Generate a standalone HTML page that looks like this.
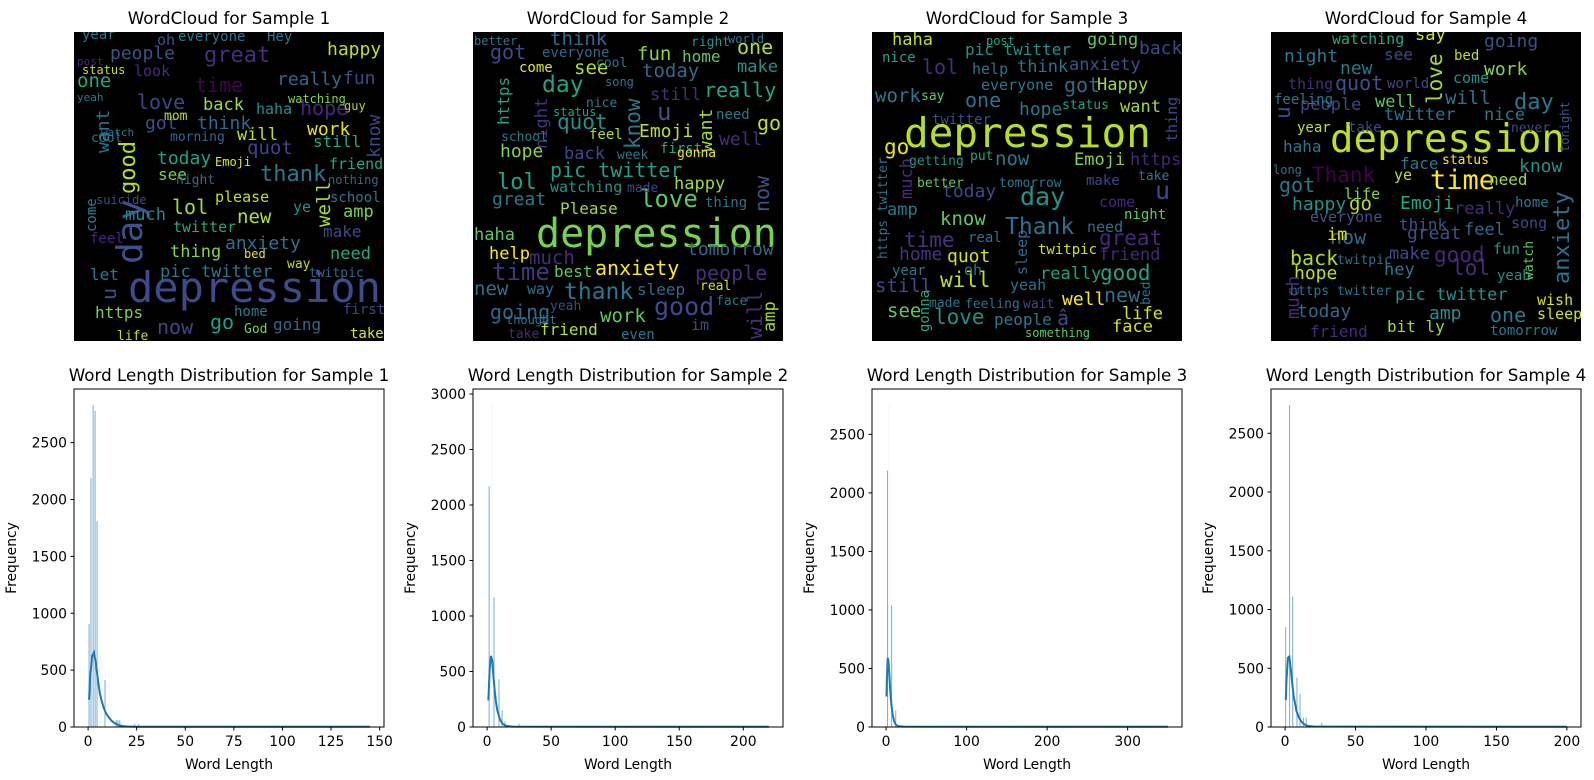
<!DOCTYPE html>
<html><head><meta charset="utf-8">
<style>
html,body{margin:0;padding:0;background:#fff;}
svg{display:block;font-family:"DejaVu Sans","Liberation Sans",sans-serif;}
.wc text{font-family:"DejaVu Sans Mono","Liberation Mono",monospace;}
</style></head>
<body>
<svg id="fig" width="1594" height="780" viewBox="0 0 1594 780" xmlns="http://www.w3.org/2000/svg"></svg>
<script>
// ---- histogram data ----
const s1Lengths=[0.5,1.5,2.6,3.6,4.6,8.7,14.5,15.3,16.3,24,26];
const s1Counts=[905,2190,2830,2780,1810,415,60,60,60,25,25];
const s1LightLengths=[6,7];
const s1LightCounts=[1800,600];
const s1KdeX=[0.5,1,2,3,4,5,6,7,8,9,10,12,14,16,18,20,25,145];
const s1KdeY=[240,420,620,655,560,420,300,230,170,130,100,55,30,15,8,4,2,2];
const s1Max=145;

const s2Lengths=[1.6,5.4,9.3,11.7,14,25];
const s2Counts=[2170,1170,430,150,50,30];
const s2LightLengths=[3.7];
const s2LightCounts=[2900];
const s2KdeX=[1,2,3,4,5,6,7,8,10,12,14,16,20,220];
const s2KdeY=[240,520,640,600,450,320,220,150,70,30,15,8,3,2];
const s2Max=220;

const s3Lengths=[1.8,6.9,12,20];
const s3Counts=[2190,1040,140,20];
const s3LightLengths=[4.5];
const s3LightCounts=[2750];
const s3KdeX=[0.5,1,2,3,4,5,6,8,10,12,15,20,350];
const s3KdeY=[260,420,590,560,450,330,230,110,50,20,8,3,2];
const s3Max=350;

const s4Lengths=[0.4,3.2,5.4,8.4,10.6,13,15,26];
const s4Counts=[850,2740,1110,420,280,80,80,35];
const s4LightLengths=[];
const s4LightCounts=[];
const s4KdeX=[0.5,1,2,3,4,5,6,8,10,12,14,16,20,200];
const s4KdeY=[230,400,590,600,500,380,270,140,75,40,20,10,4,2];
const s4Max=200;

const xTickSteps=[25,50,100,50];
const yTickStep=500;

// ---- word clouds: [text, x, baselineY, size, color, vertical] in 310px cloud coords ----
const cloud1=[["depression",54,270,42,"#3e4a89",0],["day",68,232,36,"#3b528b",1],["good",61,162,22,"#b5de2b",1],
["thank",186,149,22,"#2a788e",0],["love",63,77,20,"#414487",0],["great",130,30,22,"#472d7b",0],["time",121,60,20,"#440154",0],
["think",123,97,18,"#31688e",0],["lol",98,182,20,"#a0da39",0],["pic twitter",86,245,17,"#2a788e",0],["anxiety",151,217,18,"#2c728e",0],
["today",83,132,18,"#20a386",0],["quot",173,122,19,"#414487",0],["people",36,27,18,"#3b528b",0],["happy",253,23,18,"#c2df23",0],
["really",203,53,18,"#31688e",0],["one",3,55,19,"#22a884",0],["fun",269,52,18,"#3e4989",0],["back",129,78,17,"#9fda3a",0],
["hope",226,83,20,"#482878",0],["got",71,97,18,"#3b528b",0],["want",35,121,18,"#2c728e",1],["work",233,103,18,"#e5e419",0],
["will",163,108,17,"#bddf26",0],["still",239,115,16,"#22a884",0],["know",306,126,18,"#414487",1],["new",163,191,19,"#b5de2b",0],
["well",256,195,19,"#addc30",1],["amp",269,185,17,"#7ad151",0],["much",51,188,17,"#26828e",0],["need",256,227,17,"#22a884",0],
["thing",96,225,17,"#84d44b",0],["make",249,205,16,"#3e4989",0],["https",21,286,16,"#7ad151",0],["now",83,302,20,"#414487",0],
["go",136,297,20,"#1f9e89",0],["going",199,298,16,"#31688e",0],["u",42,268,20,"#3b528b",1],["let",16,248,16,"#2a788e",0],
["come",22,200,14,"#26828e",1],["everyone",104,9,14,"#2a788e",0],["Hey",193,9,14,"#2a788e",0],["year",8,7,14,"#2c728e",0],
["oh",83,13,15,"#3b528b",0],["mom",90,88,13,"#b5de2b",0],["cool",17,110,13,"#2a788e",0],["haha",182,82,15,"#21918c",0],
["morning",96,109,13,"#31688e",0],["see",84,148,16,"#7ad151",0],["night",102,152,13,"#31688e",0],["please",141,170,15,"#c2df23",0],
["school",256,170,14,"#2a788e",0],["friend",255,137,15,"#22a884",0],["twitter",99,200,15,"#22a884",0],["feel",16,211,14,"#482878",0],
["nothing",254,152,12,"#31688e",0],["status",8,42,12,"#c2df23",0],["watching",214,71,12,"#84d44b",0],["guy",270,78,12,"#9fda3a",0],
["Emoji",141,134,12,"#e5e419",0],["twitpic",235,245,13,"#31688e",0],["first",269,282,14,"#3e4989",0],["take",276,306,14,"#e5e419",0],
["home",160,284,14,"#2a788e",0],["God",170,301,13,"#7ad151",0],["life",43,308,13,"#bddf26",0],["suicide",22,172,12,"#3e4989",0],
["look",60,44,15,"#472d7b",0],["post",3,33,11,"#482878",0],["yeah",3,69,11,"#2a788e",0],["watch",27,104,11,"#2a788e",0],
["bed",170,226,12,"#e5e419",0],["way",213,236,13,"#bddf26",0],["ye",219,180,15,"#21918c",0]];
const cloud2=[["depression",63,215,40,"#7ad151",0],["day",69,60,23,"#20a386",0],["know",167,117,21,"#2a788e",1],["love",167,175,24,"#5ec962",0],
["good",181,283,25,"#3e4989",0],["thank",91,267,23,"#2a788e",0],["pic twitter",77,145,20,"#1f9e89",0],["lol",24,157,22,"#20a386",0],
["quot",84,97,21,"#21918c",0],["Emoji",166,105,18,"#bddf26",0],["still",177,68,17,"#472d7b",0],["really",231,65,20,"#22a884",0],
["today",169,45,19,"#31688e",0],["fun",164,28,19,"#84d44b",0],["think",77,13,19,"#31688e",0],["got",17,27,20,"#3e4989",0],
["https",36,93,16,"#20a386",1],["night",74,117,17,"#46337e",1],["hope",27,125,18,"#84d44b",0],["back",91,127,17,"#3e4989",0],
["great",19,173,18,"#2a788e",0],["Please",87,182,16,"#9fda3a",0],["much",56,232,19,"#472d7b",0],["anxiety",122,243,20,"#fde725",0],
["tomorrow",214,223,18,"#31688e",0],["people",222,248,20,"#472d7b",0],["time",19,248,24,"#46337e",0],["new",1,263,19,"#2c728e",0],
["going",17,287,20,"#31688e",0],["work",127,290,19,"#5ec962",0],["friend",67,303,16,"#b5de2b",0],["now",296,180,20,"#3b528b",1],
["will",289,307,20,"#472d7b",1],["amp",302,300,17,"#9fda3a",1],["want",239,120,18,"#9fda3a",1],["happy",201,157,17,"#9fda3a",0],
["watching",77,160,15,"#21918c",0],["one",264,22,20,"#b5de2b",0],["make",264,40,17,"#21918c",0],["see",101,42,19,"#b5de2b",0],
["help",16,227,17,"#fde725",0],["haha",1,208,17,"#5ec962",0],["sleep",164,263,16,"#31688e",0],["best",81,245,16,"#5ec962",0],
["home",209,30,16,"#5ec962",0],["u",184,88,24,"#3b528b",0],["well",246,113,18,"#472d7b",0],["go",284,98,20,"#bddf26",0],
["everyone",69,25,14,"#31688e",0],["come",46,40,14,"#e5e419",0],["school",28,109,13,"#2a788e",0],["week",144,127,13,"#2a788e",0],
["first",187,121,14,"#22a884",0],["need",243,87,14,"#2a788e",0],["status",80,84,12,"#20a386",0],["feel",116,107,14,"#b5de2b",0],
["way",54,262,15,"#2c728e",0],["yeah",77,278,13,"#3e4989",0],["thought",33,292,12,"#2a788e",0],["take",35,306,13,"#472d7b",0],
["even",148,307,14,"#2a788e",0],["im",218,298,15,"#3e4989",0],["face",243,273,13,"#2a788e",0],["real",227,258,13,"#d2e21b",0],
["thing",232,175,14,"#2c728e",0],["gonna",204,125,13,"#e5e419",0],["made",154,160,13,"#3e4989",0],["better",1,13,12,"#2a788e",0],
["song",132,54,12,"#2a788e",0],["nice",113,75,13,"#2a788e",0],["cool",123,35,13,"#2a788e",0],["right",218,14,13,"#21918c",0],["world",255,11,12,"#2a788e",0]];
const cloud3=[["depression",32,115,41,"#b5de2b",0],["day",148,173,25,"#21918c",0],["Thank",133,202,23,"#2c728e",0],["lol",50,42,20,"#472d7b",0],
["time",32,215,21,"#46337e",0],["great",227,213,21,"#482878",0],["love",62,292,21,"#21918c",0],["will",68,255,21,"#bddf26",0],
["good",228,248,21,"#20a386",0],["know",68,193,19,"#5ec962",0],["quot",75,230,18,"#d2e21b",0],["pic twitter",93,23,16,"#21918c",0],
["got",192,60,20,"#31688e",0],["one",93,75,20,"#2c728e",0],["today",70,165,18,"#3e4989",0],["now",123,133,19,"#2a788e",0],
["https",258,133,17,"#482878",0],["Emoji",202,133,17,"#84d44b",0],["anxiety",197,38,17,"#3b528b",0],["think",145,40,17,"#2c728e",0],
["u",283,167,25,"#3e4989",0],["much",40,167,17,"#472d7b",1],["new",232,270,20,"#2c728e",0],["face",240,300,17,"#d2e21b",0],
["well",190,273,18,"#fde725",0],["people",122,293,16,"#2a788e",0],["really",168,247,17,"#20a386",0],["still",3,260,19,"#3e4989",0],
["see",15,285,19,"#5ec962",0],["work",3,70,19,"#2a788e",0],["go",12,122,21,"#e5e419",0],["amp",15,183,17,"#2a788e",0],
["home",27,228,18,"#46337e",0],["back",267,22,18,"#3e4989",0],["going",215,13,17,"#5ec962",0],["haha",20,13,17,"#bddf26",0],
["Happy",225,58,17,"#a0da39",0],["hope",147,83,18,"#2a788e",0],["want",248,80,17,"#a0da39",0],["friend",227,228,17,"#482878",0],
["life",250,287,17,"#d2e21b",0],["â",185,293,20,"#3e4989",0],["https twitter",15,227,13,"#2c728e",1],["sleep",155,243,15,"#31688e",1],
["gonna",57,300,14,"#22a884",1],["thing",305,110,15,"#3e4989",1],["something",153,305,12,"#5ec962",0],["everyone",109,58,15,"#2a788e",0],
["help",100,42,15,"#2c728e",0],["nice",10,30,14,"#20a386",0],["status",190,77,13,"#20a386",0],["twitter",60,92,14,"#3e4989",0],
["getting",37,133,13,"#21918c",0],["better",45,155,13,"#5ec962",0],["tomorrow",127,155,13,"#2a788e",0],["make",214,153,14,"#3e4989",0],
["come",227,175,15,"#482878",0],["need",215,200,15,"#2c728e",0],["night",252,187,14,"#5ec962",0],["real",96,210,14,"#2c728e",0],
["twitpic",166,222,14,"#d2e21b",0],["year",20,243,14,"#2a788e",0],["oh",92,243,15,"#2a788e",0],["made",57,275,13,"#2c728e",0],
["feeling",93,276,13,"#2c728e",0],["yeah",138,258,15,"#2c728e",0],["wait",151,276,13,"#3e4989",0],["take",266,148,13,"#2a788e",0],
["say",49,68,13,"#5ec962",0],["post",114,13,12,"#22a884",0],["put",98,128,13,"#22a884",0],["bed",278,273,13,"#2c728e",1]];
const cloud4=[["depression",59,120,39,"#bddf26",0],["time",159,157,27,"#fde725",0],["Thank",41,150,21,"#440154",0],["anxiety",298,252,22,"#2c728e",1],
["love",171,72,21,"#9fda3a",1],["quot",64,58,20,"#3b528b",0],["day",243,77,22,"#2a788e",0],["good",163,230,21,"#482878",0],
["lol",181,243,21,"#472d7b",0],["pic twitter",124,268,17,"#21918c",0],["Emoji",129,177,18,"#22a884",0],["really",183,182,17,"#472d7b",0],
["will",174,72,19,"#2c728e",0],["now",59,212,20,"#31688e",0],["back",19,233,20,"#addc30",0],["hope",23,247,18,"#c2df23",0],
["today",26,285,18,"#31688e",0],["friend",39,305,16,"#472d7b",0],["one",219,290,20,"#2a788e",0],["amp",158,287,18,"#21918c",0],
["bit ly",116,300,16,"#9fda3a",0],["great",136,207,18,"#3b528b",0],["got",8,160,20,"#2a788e",0],["happy",21,178,18,"#21918c",0],
["go",78,178,19,"#bddf26",0],["make",118,227,17,"#3e4989",0],["know",248,140,18,"#21918c",0],["night",13,30,18,"#2a788e",0],
["going",213,15,18,"#3b528b",0],["work",213,43,18,"#84d44b",0],["watching",61,12,15,"#22a884",0],["new",69,42,18,"#2a788e",0],
["people",29,78,17,"#3e4989",0],["twitter",113,88,17,"#2c728e",0],["well",104,75,17,"#5ec962",0],["nice",213,88,17,"#2a788e",0],
["everyone",39,190,15,"#3b528b",0],["feel",193,203,17,"#31688e",0],["need",218,153,16,"#a0da39",0],["hey",113,243,17,"#2a788e",0],
["im",56,208,17,"#e5e419",0],["u",19,87,21,"#3e4989",1],["much",28,287,18,"#472d7b",1],["https twitter",19,263,13,"#2c728e",0],
["sleep",266,287,15,"#d2e21b",0],["wish",266,273,15,"#d2e21b",0],["tomorrow",219,303,14,"#2a788e",0],["face",129,137,16,"#2a788e",0],
["status",171,132,13,"#fde725",0],["say",144,8,17,"#d2e21b",0],["see",113,28,16,"#3e4989",0],["thing",17,57,15,"#472d7b",0],
["world",116,56,14,"#3e4989",0],["feeling",3,72,14,"#2a788e",0],["come",182,51,15,"#21918c",0],["bed",183,28,14,"#bddf26",0],
["year",26,100,14,"#c2df23",0],["haha",12,120,16,"#2a788e",0],["take",77,100,14,"#3e4989",0],["life",73,167,15,"#84d44b",0],
["think",128,198,16,"#3b528b",0],["fun",222,222,15,"#21918c",0],["song",240,196,15,"#3e4989",0],["home",244,175,14,"#2a788e",0],
["yeah",226,248,14,"#21918c",0],["watch",262,248,13,"#5ec962",1],["twitpic",66,232,13,"#2c728e",0],["never",240,100,13,"#3e4989",0],
["tonight",298,120,12,"#3b528b",1],["long",2,142,12,"#2c728e",0],["ye",123,148,15,"#c2df23",0]];

const NS="http://www.w3.org/2000/svg";
const svg=document.getElementById('fig');
function mk(tag,attrs,parent){const e=document.createElementNS(NS,tag);for(const k in attrs)e.setAttribute(k,attrs[k]);(parent||svg).appendChild(e);return e;}

const colLeft=[74,473,872,1271];
const W=310;
const clouds=[cloud1,cloud2,cloud3,cloud4];
const samples=[
 [s1Lengths,s1Counts,s1LightLengths,s1LightCounts,s1KdeX,s1KdeY,s1Max],
 [s2Lengths,s2Counts,s2LightLengths,s2LightCounts,s2KdeX,s2KdeY,s2Max],
 [s3Lengths,s3Counts,s3LightLengths,s3LightCounts,s3KdeX,s3KdeY,s3Max],
 [s4Lengths,s4Counts,s4LightLengths,s4LightCounts,s4KdeX,s4KdeY,s4Max]];

for(let c=0;c<4;c++){
  const L=colLeft[c];
  const t=mk('text',{x:L+W/2,y:24,'text-anchor':'middle','font-size':16.7,fill:'#000'});
  t.textContent='WordCloud for Sample '+(c+1);
  
  
  const g=mk('g',{class:'wc',transform:`translate(${L},32)`});
  
  
  mk('rect',{x:0,y:0,width:W,height:309,fill:'#000'},g);
  const clip=mk('clipPath',{id:'clip'+c},g);mk('rect',{x:0,y:0,width:W,height:309},clip);
  const wg=mk('g',{'clip-path':`url(#clip${c})`},g);
  for(const w of clouds[c]){
    const a={x:w[1],y:w[2],'font-size':w[3],fill:w[4]};
    if(w[5])a.transform=`rotate(-90 ${w[1]} ${w[2]})`;
    const e=mk('text',a,wg);e.textContent=w[0];
    
    
  }
  const [lens,cnts,llens,lcnts,kx,ky,mx]=samples[c];
  const top=389,bot=727;
  const pad=mx*0.05, x0=-pad, x1=mx+pad;
  const ymax=Math.max(...cnts,...(lcnts.length?lcnts:[0]))*1.05;
  const X=v=>L+(v-x0)/(x1-x0)*W;
  const Y=v=>bot-v/ymax*(bot-top);
  const ax=mk('g',{});
  
  
  const ht=mk('text',{x:L+W/2,y:381,'text-anchor':'middle','font-size':16.7,fill:'#000'},ax);
  ht.textContent='Word Length Distribution for Sample '+(c+1);
  
  
  for(let i=0;i<llens.length;i++){
    const r=mk('rect',{x:X(llens[i])-1,y:Y(lcnts[i]),width:2,height:bot-Y(lcnts[i]),fill:'rgba(31,119,180,0.04)'},ax);
    
    
  }
  for(let i=0;i<lens.length;i++){
    const r=mk('rect',{x:X(lens[i])-0.5,y:Y(cnts[i]),width:1,height:bot-Y(cnts[i]),fill:'rgba(31,119,180,0.6)'},ax);
    
    
  }
  let d='';
  for(let i=0;i<kx.length;i++)d+=(i?'L':'M')+X(kx[i]).toFixed(2)+','+Y(ky[i]).toFixed(2);
  const kl=mk('path',{d:d,fill:'none',stroke:'#1f77b4','stroke-width':2},ax);
  
  
  mk('rect',{x:L,y:top,width:W,height:bot-top,fill:'none',stroke:'#000','stroke-width':1},ax);
  for(let v=0;v<=ymax;v+=yTickStep){
    const y=Y(v);
    mk('line',{x1:L,x2:L-3.5,y1:y,y2:y,stroke:'#000'},ax);
    const tl=mk('text',{x:L-7,y:y+5,'text-anchor':'end','font-size':13.9,fill:'#000'},ax);
    tl.textContent=v;
    
    
  }
  for(let v=0;v<=x1;v+=xTickSteps[c]){
    const x=X(v);
    mk('line',{x1:x,x2:x,y1:bot,y2:bot+3.5,stroke:'#000'},ax);
    const tl=mk('text',{x:x,y:bot+19,'text-anchor':'middle','font-size':13.9,fill:'#000'},ax);
    tl.textContent=v;
    
    
  }
  const xl=mk('text',{x:L+W/2,y:769,'text-anchor':'middle','font-size':13.9,fill:'#000'},ax);
  xl.textContent='Word Length';
  
  
  const yx=L-58, yy=(top+bot)/2;
  const yl=mk('text',{x:yx,y:yy,'text-anchor':'middle','font-size':13.9,fill:'#000',transform:`rotate(-90 ${yx} ${yy})`},ax);
  yl.textContent='Frequency';
  
  
}
</script>
</body></html>
